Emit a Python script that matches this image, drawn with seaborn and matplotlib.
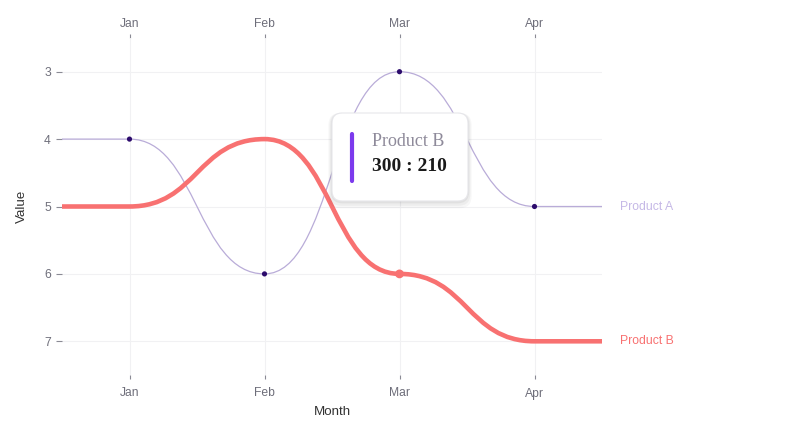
import matplotlib
matplotlib.use("Agg")
import matplotlib.pyplot as plt
from matplotlib.path import Path
from matplotlib.patches import PathPatch, FancyBboxPatch
import numpy as np
import pandas as pd
import seaborn as sns

months = ["Jan", "Feb", "Mar", "Apr"]
product_a = [4, 6, 3, 5]
product_b = [5, 4, 6, 7]
series_names = ["Product A", "Product B"]
y_ticks = [3, 4, 5, 6, 7]
tooltip_title = "Product B"
tooltip_value = "300 : 210"
hover_month = "Mar"

COL_A = "#b9acd8"
COL_A_LABEL = "#c5b8e6"
COL_DOT = "#2c0b6c"
COL_B = "#f87171"
TICK_COL = "#6e6e7a"
GRID_COL = "#f1f1f3"

sns.set_theme(style="white")
plt.rcParams["font.family"] = ["Liberation Sans", "DejaVu Sans"]

fig = plt.figure(figsize=(7.9, 4.28), dpi=100)
ax = fig.add_axes([62 / 790, 1 - 375 / 428, 540 / 790, 337 / 428])

xs = np.arange(len(months))


def bump_path(values):
    pad = 0.5
    verts = [(xs[0] - pad, values[0]), (xs[0], values[0])]
    codes = [Path.MOVETO, Path.LINETO]
    for i in range(len(values) - 1):
        xm = (xs[i] + xs[i + 1]) / 2
        verts += [(xm, values[i]), (xm, values[i + 1]), (xs[i + 1], values[i + 1])]
        codes += [Path.CURVE4] * 3
    verts.append((xs[-1] + pad, values[-1]))
    codes.append(Path.LINETO)
    return Path(verts, codes)


ax.add_patch(PathPatch(bump_path(product_a), fill=False, edgecolor=COL_A,
                       lw=0.9, capstyle="round", zorder=3))
ax.add_patch(PathPatch(bump_path(product_b), fill=False, edgecolor=COL_B,
                       lw=3.3, capstyle="round", joinstyle="round", zorder=4))

df_a = pd.DataFrame({"x": xs, "v": product_a})
sns.scatterplot(data=df_a, x="x", y="v", ax=ax, color=COL_DOT, s=14,
                edgecolor="none", zorder=5, legend=False)
hi = months.index(hover_month)
df_b = pd.DataFrame({"x": [xs[hi]], "v": [product_b[hi]]})
sns.scatterplot(data=df_b, x="x", y="v", ax=ax, color=COL_B, s=40,
                edgecolor="none", zorder=6, legend=False)

ax.set_xlim(-0.5, len(months) - 0.5)
ax.set_ylim(max(y_ticks) + 0.5, min(y_ticks) - 0.5)
ax.set_xticks(xs)
ax.set_xticklabels(months)
ax.set_yticks(y_ticks)
ax.set_yticklabels([str(t) for t in y_ticks])
for s in ax.spines.values():
    s.set_visible(False)
ax.grid(True, color=GRID_COL, lw=0.8)
ax.set_axisbelow(True)
ax.tick_params(axis="x", bottom=True, labelbottom=True,
               length=3, width=0.8, color="#8a8a94", labelcolor=TICK_COL,
               labelsize=8.7, pad=6, direction="out")
ax.tick_params(axis="y", left=True, length=4, width=0.8, color="#8a8a94",
               labelcolor=TICK_COL, labelsize=8.7, pad=4)

top = ax.secondary_xaxis("top")
top.set_xticks(xs)
top.set_xticklabels(months)
top.tick_params(axis="x", length=3, width=0.8, color="#8a8a94", labelcolor=TICK_COL,
                labelsize=8.7, pad=3, direction="out")
for s in top.spines.values():
    s.set_visible(False)

ax.set_xlabel("Month", fontsize=9.6, color="#333333", labelpad=5)
ax.set_ylabel("Value", fontsize=9.6, color="#333333", labelpad=12)

ax.annotate(series_names[0], xy=(xs[-1] + 0.5, product_a[-1]), xytext=(18, 0),
            textcoords="offset pixels", va="center", ha="left",
            fontsize=8.8, color=COL_A_LABEL, annotation_clip=False)
ax.annotate(series_names[1], xy=(xs[-1] + 0.5, product_b[-1]), xytext=(18, 0),
            textcoords="offset pixels", va="center", ha="left",
            fontsize=8.8, color=COL_B, annotation_clip=False)

# tooltip
tr = fig.dpi_scale_trans
H = 4.28
bx, by, bw, bh = 3.32, H - 2.01, 1.36, 0.88
for k, a in [(6, 0.03), (4, 0.04), (2, 0.05)]:
    d = k / 100
    fig.patches.append(FancyBboxPatch((bx - d * 0.6, by - d * 1.2), bw + d * 1.2, bh + d * 1.2,
                                      boxstyle="round,pad=0,rounding_size=0.12",
                                      transform=tr, facecolor="black", edgecolor="none",
                                      alpha=a, zorder=10))
fig.patches.append(FancyBboxPatch((bx, by), bw, bh,
                                  boxstyle="round,pad=0,rounding_size=0.10",
                                  transform=tr, facecolor="white", edgecolor="#e6e6ea",
                                  lw=0.8, zorder=11))
fig.lines.append(plt.Line2D([3.52, 3.52], [H - 1.34, H - 1.81], transform=tr,
                            color="#7c3aed", lw=3.0, solid_capstyle="round", zorder=12))
fig.text(3.72, H - 1.41, tooltip_title, transform=tr, ha="left", va="center",
         fontsize=13, color="#8e8a9a", family=["Liberation Serif"], zorder=12)
fig.text(3.72, H - 1.665, tooltip_value, transform=tr, ha="left", va="center",
         fontsize=14, color="#1a1a1a", weight="bold", family=["Liberation Serif"], zorder=12)

fig.savefig("out.png", dpi=100)
